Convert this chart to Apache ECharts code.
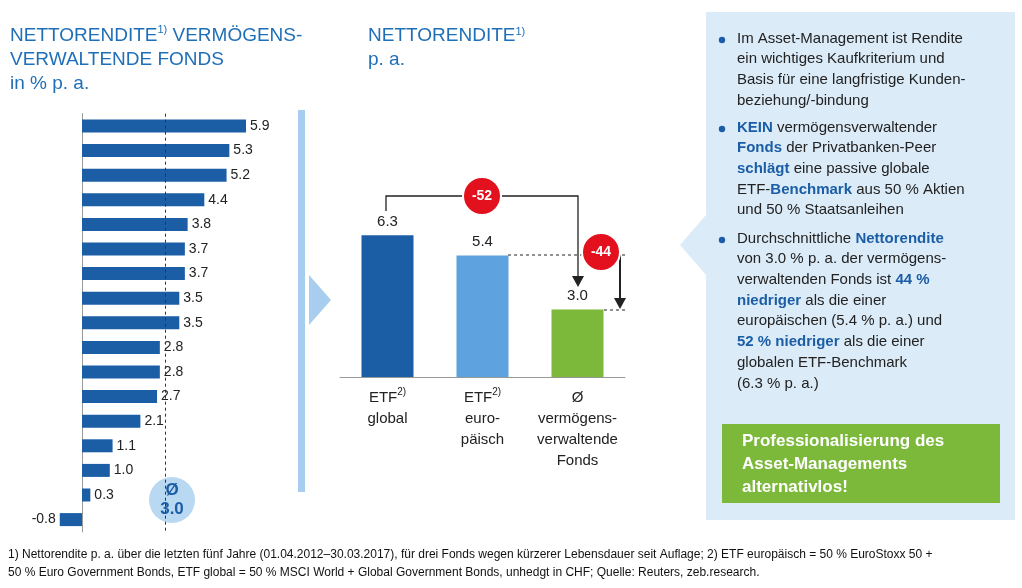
<!DOCTYPE html>
<html lang="de">
<head>
<meta charset="UTF-8">
<title>Nettorendite</title>
<script src="https://cdn.jsdelivr.net/npm/echarts@6/dist/echarts.min.js"></script>
<style>html,body{margin:0;background:#fff}#main{width:1022px;height:588px}</style>
</head>
<body>
<div id="main"></div>
<script>
// Fonds (links), von oben nach unten
var fundValues = [5.9, 5.3, 5.2, 4.4, 3.8, 3.7, 3.7, 3.5, 3.5, 2.8, 2.8, 2.7, 2.1, 1.1, 1.0, 0.3, -0.8]
var fundNames = fundValues.map(function (v, i) { return 'F' + (i + 1) })
var fundAvg = 3.0
// Benchmark (Mitte)
var benchCats = ['ETF{s|2)}\nglobal', 'ETF{s|2)}\neuro-\npäisch', 'Ø\nvermögens-\nverwaltende\nFonds']
var benchValues = [6.3, 5.4, 3.0]
var benchColors = ['#1b5ea6', '#5ea2e0', '#7cb93b']

var blue = '#1f6fb8', font = 'Liberation Sans, Arial, sans-serif'
var chart = echarts.init(document.getElementById('main'))

function txt(x, y, text, style) {
  return { type: 'text', left: x, top: y, silent: true,
    style: Object.assign({ text: text, font: '15px ' + font, fill: '#222' }, style || {}) }
}
// rich line helper: segments [text,bold]
function rline(x, y, segs) {
  var s = segs.map(function (p) { return p[1] ? '{b|' + p[0] + '}' : '{n|' + p[0] + '}' }).join('')
  return { type: 'text', left: x, top: y, silent: true,
    style: { text: s, rich: {
      n: { font: '15px ' + font, fill: '#222' },
      b: { font: 'bold 15px ' + font, fill: '#1b5ea6' } } } }
}
var right = [
  [[['Im Asset-Management ist Rendite']], [['ein wichtiges Kaufkriterium und']], [['Basis für eine langfristige Kunden-']], [['beziehung/-bindung']]],
  [[['KEIN', 1], [' vermögensverwaltender']], [['Fonds', 1], [' der Privatbanken-Peer']], [['schlägt', 1], [' eine passive globale']], [['ETF-'], ['Benchmark', 1], [' aus 50 % Aktien']], [['und 50 % Staatsanleihen']]],
  [[['Durchschnittliche '], ['Nettorendite', 1]], [['von 3.0 % p. a. der vermögens-']], [['verwaltenden Fonds ist '], ['44 %', 1]], [['niedriger', 1], [' als die einer']], [['europäischen (5.4 % p. a.) und']], [['52 % niedriger', 1], [' als die einer']], [['globalen ETF-Benchmark']], [['(6.3 % p. a.)']]]
]
var graphics = [
  { type: 'rect', shape: { x: 706, y: 12, width: 309, height: 508 }, style: { fill: '#dcebf8' }, silent: true },
  { type: 'polygon', shape: { points: [[706, 215], [680, 245], [706, 275]] }, style: { fill: '#dcebf8' }, silent: true },
  { type: 'rect', shape: { x: 298, y: 110, width: 7, height: 382 }, style: { fill: '#a9cdee' }, silent: true },
  { type: 'polygon', shape: { points: [[309, 275], [331, 300], [309, 325]] }, style: { fill: '#a9cdee' }, silent: true },
  { type: 'rect', shape: { x: 722, y: 424, width: 278, height: 79 }, style: { fill: '#7cb93b' }, silent: true },
  txt(742, 430, 'Professionalisierung des\nAsset-Managements\nalternativlos!', { font: 'bold 17px ' + font, fill: '#fff', lineHeight: 23 }),
  { type: 'text', left: 10, top: 24, silent: true, style: { text: 'NETTORENDITE{s|1)} VERMÖGENS-\nVERWALTENDE FONDS\nin % p. a.', lineHeight: 24,
    font: '19px ' + font, fill: blue, rich: { s: { font: '11px ' + font, fill: blue, verticalAlign: 'top', padding: [0, 0, 8, 0] } } } },
  { type: 'text', left: 368, top: 24, silent: true, style: { text: 'NETTORENDITE{s|1)}\np. a.', lineHeight: 24,
    font: '19px ' + font, fill: blue, rich: { s: { font: '11px ' + font, fill: blue, padding: [0, 0, 8, 0] } } } },
  { type: 'circle', shape: { cx: 172, cy: 500, r: 23 }, style: { fill: '#b9d8f2' }, silent: true },
  { type: 'text', x: 172, y: 500, silent: true, style: { text: 'Ø\n3.0', align: 'center', verticalAlign: 'middle', lineHeight: 19, font: 'bold 17px ' + font, fill: '#1b5ea6' } },
  // annotations middle
  { type: 'polyline', shape: { points: [[386, 211], [386, 196], [578, 196], [578, 278]] }, style: { stroke: '#222', lineWidth: 1.3, fill: null }, silent: true },
  { type: 'polygon', shape: { points: [[572, 276], [584, 276], [578, 287]] }, style: { fill: '#222' }, silent: true },
  { type: 'line', shape: { x1: 508, y1: 255, x2: 628, y2: 255 }, style: { stroke: '#222', lineDash: [3, 3] }, silent: true },
  { type: 'line', shape: { x1: 604, y1: 310, x2: 628, y2: 310 }, style: { stroke: '#222', lineDash: [3, 3] }, silent: true },
  { type: 'line', shape: { x1: 620, y1: 255, x2: 620, y2: 300 }, style: { stroke: '#222', lineWidth: 2 }, silent: true },
  { type: 'polygon', shape: { points: [[614, 298], [626, 298], [620, 309]] }, style: { fill: '#222' }, silent: true },
  { type: 'circle', shape: { cx: 482, cy: 196, r: 19 }, style: { fill: '#e3101d', stroke: '#fff', lineWidth: 2 }, silent: true },
  { type: 'text', x: 482, y: 196, silent: true, style: { text: '-52', align: 'center', verticalAlign: 'middle', font: 'bold 14px ' + font, fill: '#fff' } },
  { type: 'circle', shape: { cx: 601, cy: 252, r: 19 }, style: { fill: '#e3101d', stroke: '#fff', lineWidth: 2 }, silent: true },
  { type: 'text', x: 601, y: 252, silent: true, style: { text: '-44', align: 'center', verticalAlign: 'middle', font: 'bold 14px ' + font, fill: '#fff' } },
  txt(8, 546, '1) Nettorendite p. a. über die letzten fünf Jahre (01.04.2012–30.03.2017), für drei Fonds wegen kürzerer Lebensdauer seit Auflage; 2) ETF europäisch = 50 % EuroStoxx 50 +\n50 % Euro Government Bonds, ETF global = 50 % MSCI World + Global Government Bonds, unhedgt in CHF; Quelle: Reuters, zeb.research.', { font: '12px ' + font, fill: '#111', lineHeight: 18 })
]
var starts = [31, 120, 231], lh = 20.7
right.forEach(function (block, bi) {
  graphics.push({ type: 'circle', shape: { cx: 722, cy: starts[bi] + 9, r: 3.2 }, style: { fill: '#1b5ea6' }, silent: true })
  block.forEach(function (line, li) { graphics.push(rline(737, starts[bi] + li * lh, line)) })
})

chart.setOption({
  animation: false,
  textStyle: { fontFamily: font },
  graphic: graphics,
  grid: [
    { left: 54.2, width: 194.6, top: 113.7, height: 418.2 },
    { left: 340, width: 285, top: 219.5, height: 157.5 }
  ],
  xAxis: [
    { gridIndex: 0, type: 'value', min: -1, max: 6, show: false },
    { gridIndex: 1, type: 'category', data: benchCats, axisTick: { show: false },
      axisLine: { lineStyle: { color: '#999' } },
      axisLabel: { color: '#222', fontSize: 15, lineHeight: 21, margin: 10, interval: 0,
        rich: { s: { fontSize: 10, verticalAlign: 'top', padding: [0, 0, 6, 0] } } } }
  ],
  yAxis: [
    { gridIndex: 0, type: 'category', data: fundNames, inverse: true,
      axisLine: { lineStyle: { color: '#999' } }, axisTick: { show: false }, axisLabel: { show: false } },
    { gridIndex: 1, type: 'value', min: 0, max: 7, show: false }
  ],
  series: [
    { type: 'bar', xAxisIndex: 0, yAxisIndex: 0, barWidth: 13, itemStyle: { color: '#1b5ea6' },
      data: fundValues.map(function (v) { return { value: v, label: { position: v < 0 ? 'left' : 'right' } } }),
      label: { show: true, color: '#222', fontSize: 14, distance: 4, formatter: function (p) { return p.value.toFixed(1) } },
      markLine: { symbol: 'none', silent: true, label: { show: false },
        lineStyle: { color: '#333', type: [3, 3], width: 1 }, data: [{ xAxis: fundAvg }] } },
    { type: 'bar', xAxisIndex: 1, yAxisIndex: 1, barWidth: 52,
      data: benchValues.map(function (v, i) { return { value: v, itemStyle: { color: benchColors[i] } } }),
      label: { show: true, position: 'top', color: '#222', fontSize: 15, distance: 6, formatter: function (p) { return p.value.toFixed(1) } } }
  ]
})
</script>
</body>
</html>
